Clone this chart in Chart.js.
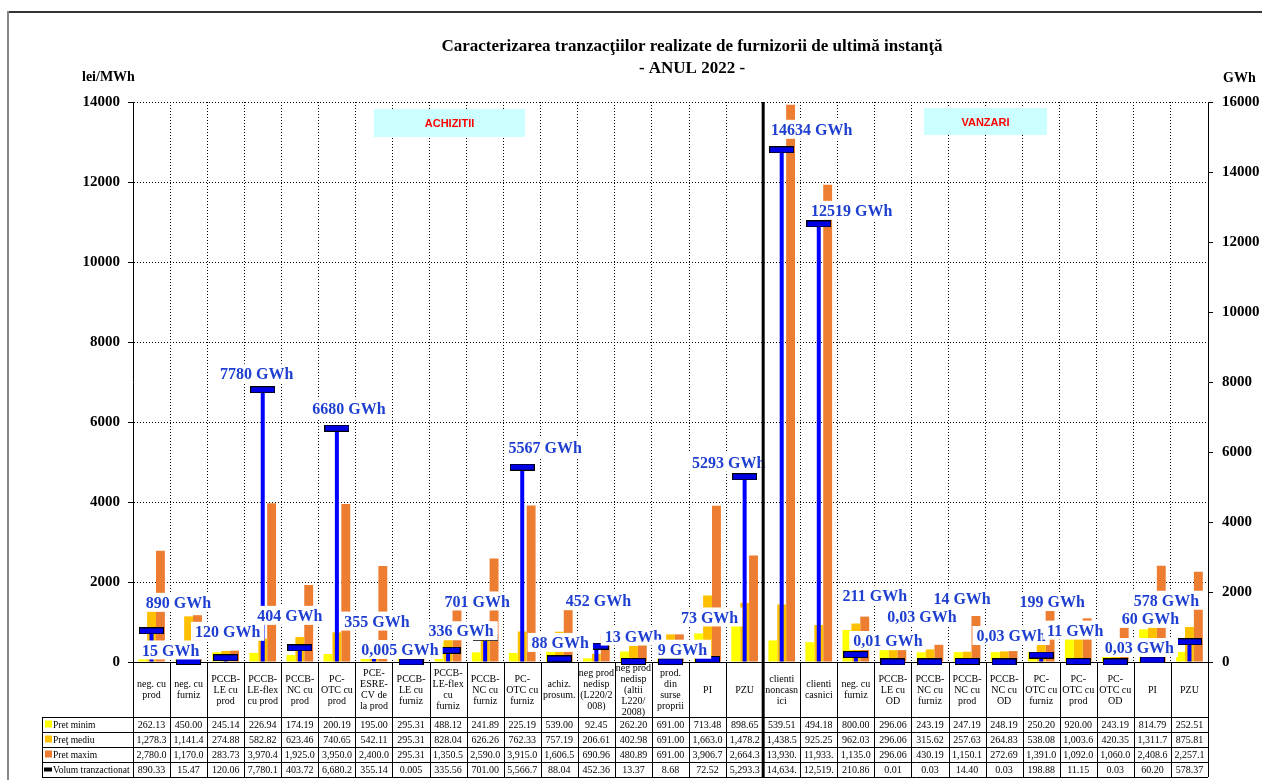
<!DOCTYPE html>
<html>
<head>
<meta charset="utf-8">
<script src="https://cdn.jsdelivr.net/npm/chart.js@4.4.1/dist/chart.umd.min.js"></script>
<style>
  html, body { margin: 0; padding: 0; background: #fff; }
  canvas { display: block; }
</style>
</head>
<body>
<canvas id="chart" width="1262" height="780"></canvas>
<script>
// categories, as the table header shows them (one entry per line)
const categories = [
  ['neg. cu', 'prod'], ['neg. cu', 'furniz'], ['PCCB-', 'LE cu', 'prod'], ['PCCB-', 'LE-flex', 'cu prod'],
  ['PCCB-', 'NC cu', 'prod'], ['PC-', 'OTC cu', 'prod'], ['PCE-', 'ESRE-', 'CV de', 'la prod'],
  ['PCCB-', 'LE cu', 'furniz'], ['PCCB-', 'LE-flex', 'cu', 'furniz'], ['PCCB-', 'NC cu', 'furniz'],
  ['PC-', 'OTC cu', 'furniz'], ['achiz.', 'prosum.'], ['neg prod', 'nedisp', '(L220/2', '008)'],
  ['neg prod', 'nedisp', '(altii', 'L220/', '2008)'], ['prod.', 'din', 'surse', 'proprii'], ['PI'], ['PZU'],
  ['clienti', 'noncasn', 'ici'], ['clienti', 'casnici'], ['neg. cu', 'furniz'], ['PCCB-', 'LE cu', 'OD'],
  ['PCCB-', 'NC cu', 'furniz'], ['PCCB-', 'NC cu', 'prod'], ['PCCB-', 'NC cu', 'OD'], ['PC-', 'OTC cu', 'furniz'],
  ['PC-', 'OTC cu', 'prod'], ['PC-', 'OTC cu', 'OD'], ['PI'], ['PZU']
];

// lei/MWh
const pretMinim = [262.13, 450.00, 245.14, 226.94, 174.19, 200.19, 195.00, 295.31, 488.12, 241.89, 225.19, 539.00,
  92.45, 262.20, 691.00, 713.48, 898.65, 539.51, 494.18, 800.00, 296.06, 243.19, 247.19, 248.19, 250.20, 920.00,
  243.19, 814.79, 252.51];
const pretMediu = [1278.3, 1141.4, 274.88, 582.82, 623.46, 740.65, 542.11, 295.31, 828.04, 626.26, 762.33, 757.19,
  206.61, 402.98, 691.00, 1663.0, 1478.2, 1438.5, 925.25, 962.03, 296.06, 315.62, 257.63, 264.83, 538.08, 1003.6,
  420.35, 1311.7, 875.81];
const pretMaxim = [2780.0, 1170.0, 283.73, 3970.4, 1925.0, 3950.0, 2400.0, 295.31, 1350.5, 2590.0, 3915.0, 1606.5,
  690.96, 480.89, 691.00, 3906.7, 2664.3, 13930, 11933, 1135.0, 296.06, 430.19, 1150.1, 272.69, 1391.0, 1092.0,
  1060.0, 2408.6, 2257.1];
// GWh
const volum = [890.33, 15.47, 120.06, 7780.1, 403.72, 6680.2, 355.14, 0.005, 335.56, 701.00, 5566.7, 88.04,
  452.36, 13.37, 8.68, 72.52, 5293.3, 14634, 12519, 210.86, 0.01, 0.03, 14.40, 0.03, 198.88, 11.15, 0.03, 60.20,
  578.37];

const rowNames = ['Pret minim', 'Preţ mediu', 'Pret maxim', 'Volum tranzactionat'];

// where each GWh label sits relative to its marker (dx, dy in px)
const labelOffsets = [[27, -28], [-18, -11], [2, -26], [-6, -16], [-10, -32], [12, -19], [3, -28], [-11, -12],
  [13, -19], [-8, -36], [23, -19], [1, -16], [2, -45], [0, -25], [12, -12], [2, -42], [-16, -14], [30, -20],
  [33, -13], [19, -59], [-5, -21], [-8, -45], [-5, -63], [7, -26], [11, -53], [-3, -31], [24, -14], [-2, -41],
  [-23, -41]];

const SERIF = "'Liberation Serif', 'Times New Roman', serif";
const SANS = "'Liberation Sans', Arial, sans-serif";
const colors = ['#FFFF00', '#FFC000', '#ED7D31'];
const blue = '#0000FF';
const labelBlue = '#1E3FD0';

// cap marker for the volume series
const cap = document.createElement('canvas');
cap.width = 25; cap.height = 7;
(function () {
  const c = cap.getContext('2d');
  c.fillStyle = '#0000E6';
  c.fillRect(0, 0, 25, 7);
  c.strokeStyle = '#000';
  c.lineWidth = 1;
  c.strokeRect(0.5, 0.5, 24, 6);
})();

function gwhLabel(v) {
  if (v >= 1) return Math.round(v) + ' GWh';
  return String(v).replace('.', ',') + ' GWh';
}
function fmt(v) {
  return v.toLocaleString('en-US', { minimumFractionDigits: 2, maximumFractionDigits: 3 }).slice(0, 7);
}

const overlay = {
  id: 'overlay',
  beforeDatasetsDraw(chart) {
    const ctx = chart.ctx;
    const boxes = [
      { text: 'ACHIZITII', x: 374, y: 109, w: 151, h: 28 },
      { text: 'VANZARI', x: 924, y: 108, w: 123, h: 27 }
    ];
    ctx.save();
    boxes.forEach(b => {
      ctx.fillStyle = '#CCFFFF';
      ctx.fillRect(b.x, b.y, b.w, b.h);
      ctx.fillStyle = '#FF0000';
      ctx.font = 'bold 11px ' + SANS;
      ctx.textAlign = 'center';
      ctx.textBaseline = 'middle';
      ctx.fillText(b.text, b.x + b.w / 2, b.y + b.h / 2 + 1);
    });
    ctx.restore();
  },
  afterDatasetsDraw(chart) {
    const ctx = chart.ctx;
    const meta = chart.getDatasetMeta(0);
    ctx.save();
    ctx.font = 'bold 16px ' + SERIF;
    ctx.textAlign = 'center';
    ctx.textBaseline = 'middle';
    meta.data.forEach((pt, i) => {
      const text = gwhLabel(volum[i]);
      const cx = pt.x + labelOffsets[i][0];
      const cy = pt.y + labelOffsets[i][1];
      const w = ctx.measureText(text).width + 8;
      ctx.fillStyle = '#fff';
      ctx.fillRect(cx - w / 2, cy - 10, w, 19);
      ctx.fillStyle = labelBlue;
      ctx.fillText(text, cx, cy + 1);
    });
    ctx.restore();
  },
  afterDraw(chart) {
    const ctx = chart.ctx;
    const area = chart.chartArea;
    const n = categories.length;
    const catW = (area.right - area.left) / n;
    const top = area.bottom;
    const headH = 55;
    const rowH = 15;
    const rowTop = top + headH;
    const bottom = rowTop + rowH * 4;
    const tableLeft = 42;

    ctx.save();
    // title and axis titles
    ctx.fillStyle = '#000';
    ctx.textAlign = 'center';
    ctx.textBaseline = 'middle';
    ctx.font = 'bold 17px ' + SERIF;
    ctx.fillText('Caracterizarea tranzacţiilor realizate de furnizorii de ultimă instanţă', 692, 47);
    ctx.fillText('- ANUL 2022 -', 692, 69);
    ctx.font = 'bold 14px ' + SERIF;
    ctx.textAlign = 'left';
    ctx.fillText('lei/MWh', 82, 77);
    ctx.fillText('GWh', 1223, 78);

    // table grid
    ctx.strokeStyle = '#000';
    ctx.lineWidth = 1;
    ctx.beginPath();
    for (let k = 0; k <= n; k++) {
      const x = Math.round(area.left + k * catW) + 0.5;
      ctx.moveTo(x, top);
      ctx.lineTo(x, bottom);
    }
    ctx.moveTo(tableLeft + 0.5, rowTop);
    ctx.lineTo(tableLeft + 0.5, bottom);
    for (let r = 0; r <= 4; r++) {
      const y = Math.round(rowTop + r * rowH) + 0.5;
      ctx.moveTo(tableLeft, y);
      ctx.lineTo(area.right, y);
    }
    ctx.stroke();

    // header labels
    ctx.font = '10px ' + SERIF;
    ctx.textAlign = 'center';
    ctx.textBaseline = 'middle';
    categories.forEach((lines, i) => {
      const cx = area.left + (i + 0.5) * catW;
      const y0 = top + (headH - lines.length * 11) / 2 + 6;
      lines.forEach((ln, j) => ctx.fillText(ln, cx, y0 + j * 11));
    });

    // values
    const rows = [pretMinim, pretMediu, pretMaxim, volum];
    rows.forEach((vals, r) => {
      const cy = rowTop + r * rowH + rowH / 2 + 1;
      vals.forEach((v, i) => {
        ctx.fillText(fmt(v), area.left + (i + 0.5) * catW, cy);
      });
    });

    // row headers with keys
    ctx.textAlign = 'left';
    ctx.font = '9.5px ' + SERIF;
    rowNames.forEach((name, r) => {
      const cy = rowTop + r * rowH + rowH / 2;
      if (r < 3) {
        ctx.fillStyle = colors[r];
        ctx.fillRect(45, cy - 4, 7, 7);
      } else {
        ctx.fillStyle = '#000';
        ctx.fillRect(44, cy - 2, 8, 4);
      }
      ctx.fillStyle = '#000';
      ctx.fillText(name, 53, cy + 1);
    });

    // separator between purchases and sales
    const sx = area.left + 17 * catW;
    ctx.lineWidth = 3;
    ctx.beginPath();
    ctx.moveTo(sx, area.top);
    ctx.lineTo(sx, bottom);
    ctx.stroke();

    // frame
    ctx.lineWidth = 2;
    ctx.strokeStyle = '#333';
    ctx.beginPath();
    ctx.moveTo(8, 12);
    ctx.lineTo(1262, 12);
    ctx.stroke();
    ctx.strokeStyle = '#888';
    ctx.beginPath();
    ctx.moveTo(8, 11);
    ctx.lineTo(8, 780);
    ctx.stroke();
    ctx.restore();
  }
};

const tickFont = { family: SERIF, size: 15, weight: 'bold' };
const plainTick = v => String(v);

new Chart(document.getElementById('chart'), {
  type: 'bar',
  data: {
    labels: categories,
    datasets: [
      {
        type: 'line',
        label: 'Volum tranzactionat',
        data: volum,
        yAxisID: 'y1',
        showLine: false,
        pointStyle: cap,
        pointRadius: 6,
        clip: false,
        order: 0
      },
      {
        type: 'bar',
        label: 'volum',
        data: volum.map(v => [0, v]),
        yAxisID: 'y1',
        grouped: false,
        maxBarThickness: 4,
        backgroundColor: blue,
        order: 1
      },
      { type: 'bar', label: 'Pret minim', data: pretMinim, yAxisID: 'y', backgroundColor: colors[0], order: 2 },
      { type: 'bar', label: 'Preţ mediu', data: pretMediu, yAxisID: 'y', backgroundColor: colors[1], order: 3 },
      { type: 'bar', label: 'Pret maxim', data: pretMaxim, yAxisID: 'y', backgroundColor: colors[2], order: 4 }
    ]
  },
  options: {
    responsive: false,
    animation: false,
    devicePixelRatio: 1,
    datasets: { bar: { categoryPercentage: 0.72, barPercentage: 1 } },
    layout: { padding: { left: 0, right: 0, top: 102, bottom: 118 } },
    plugins: { legend: { display: false }, tooltip: { enabled: false }, title: { display: false } },
    scales: {
      x: {
        offset: true,
        grid: { color: '#000', drawTicks: false, offset: true },
        border: { color: '#000', dash: [1, 2] },
        ticks: { display: false },
        afterFit(s) { s.height = 0; }
      },
      y: {
        position: 'left',
        min: 0,
        max: 14000,
        ticks: { stepSize: 2000, color: '#000', font: tickFont, padding: 8, callback: plainTick },
        grid: { color: '#000', tickLength: 5, tickColor: '#000' },
        border: { color: '#000', dash: [1, 2] },
        afterFit(s) { s.width = 133; }
      },
      y1: {
        position: 'right',
        min: 0,
        max: 16000,
        ticks: { stepSize: 2000, color: '#000', font: tickFont, padding: 9, callback: plainTick },
        grid: { drawOnChartArea: false, tickLength: 5, color: '#000' },
        border: { color: '#000' },
        afterFit(s) { s.width = 54; }
      }
    }
  },
  plugins: [overlay]
});
</script>
</body>
</html>
